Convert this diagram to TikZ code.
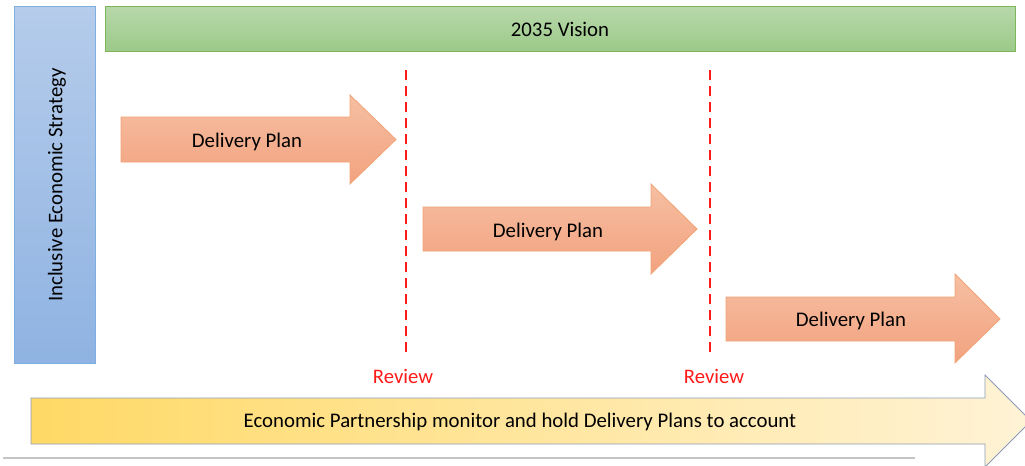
\documentclass[tikz,border=0pt]{standalone}
\usepackage{fontspec}
\setmainfont{Carlito}
\begin{document}
\begin{tikzpicture}[x=0.75pt,y=-0.75pt,
  lbl/.style={font=\fontsize{15.6pt}{18pt}\selectfont, text=black, inner sep=0pt},
  dp/.style={top color=arrowTop, bottom color=arrowBot, draw=arrowLine, line width=0.6pt},
  reviewline/.style={draw=reviewRed, line width=2.2pt, dash pattern=on 7.5pt off 4.5pt},
  reviewlbl/.style={font=\fontsize{15.5pt}{18pt}\selectfont, text=reviewRed, inner sep=0pt}]
\definecolor{blueTop}{HTML}{B5CCEB}
\definecolor{blueBot}{HTML}{8FB3E2}
\definecolor{blueLine}{HTML}{7FAEE0}
\definecolor{greenTop}{HTML}{B8D8AB}
\definecolor{greenBot}{HTML}{9CCA89}
\definecolor{greenLine}{HTML}{7DB55B}
\definecolor{arrowTop}{HTML}{F6BFA2}
\definecolor{arrowBot}{HTML}{F2A27F}
\definecolor{arrowLine}{HTML}{F2A375}
\definecolor{reviewRed}{HTML}{FF1A1A}
\definecolor{yelLeft}{HTML}{FFD966}
\definecolor{yelRight}{HTML}{FFF3D6}
\definecolor{yelLine}{HTML}{8C9CB8}
\definecolor{greyLine}{HTML}{C4C4C4}
\useasboundingbox (0,0) rectangle (1025,465);
\begin{scope}
\clip (0,0) rectangle (1025,465);
% left strategy bar
\shade[top color=blueTop, bottom color=blueBot, draw=blueLine, line width=0.6pt] (14,6) rectangle (95,363);
\node[lbl, rotate=90] (ies) at (57,185) {Inclusive Economic Strategy};
% vision bar
\shade[top color=greenTop, bottom color=greenBot, draw=greenLine, line width=0.6pt] (105,6) rectangle (1015,51);
\node[lbl] (vision) at (560,29.5) {2035 Vision};
% delivery plan arrows
\shade[dp] (121,117) -- (350,117) -- (350,95) -- (396,139.5) -- (350,184) -- (350,162) -- (121,162) -- cycle;
\node[lbl] (dp1) at (247,141.5) {Delivery Plan};
\shade[dp] (423,207) -- (651,207) -- (651,184) -- (697,229) -- (651,274) -- (651,251) -- (423,251) -- cycle;
\node[lbl] (dp2) at (548,231.5) {Delivery Plan};
\shade[dp] (726,297) -- (955,297) -- (955,274) -- (1000,319) -- (955,363) -- (955,341) -- (726,341) -- cycle;
\node[lbl] (dp3) at (851,320.5) {Delivery Plan};
% review lines
\coordinate (r1t) at (406,70);
\coordinate (r1b) at (406,357);
\coordinate (r2t) at (710,70);
\coordinate (r2b) at (710,357);
\draw[reviewline] (r1t) -- (r1b);
\draw[reviewline] (r2t) -- (r2b);
\node[reviewlbl] (rev1) at (403,376) {Review};
\node[reviewlbl] (rev2) at (714,376) {Review};
% partnership arrow
\shade[left color=yelLeft, right color=yelRight, draw=yelLine, line width=0.6pt] (31,398) -- (985,398) -- (985,375) -- (1031,421) -- (985,467) -- (985,444) -- (31,444) -- cycle;
\node[lbl] (ep) at (520,422) {Economic Partnership monitor and hold Delivery Plans to account};
% bottom rule
\coordinate (gl) at (3,458);
\coordinate (gr) at (915,458);
\draw[greyLine, line width=1pt] (gl) -- (gr);
\end{scope}
\end{tikzpicture}
\end{document}
